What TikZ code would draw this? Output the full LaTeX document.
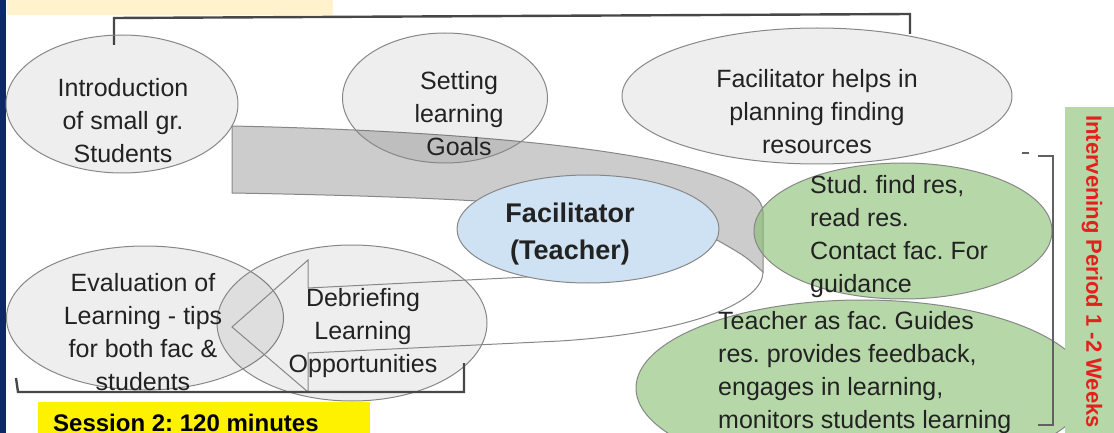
\documentclass[tikz,border=0pt]{standalone}
\usepackage{fontspec}
\setmainfont{Liberation Sans}
\usetikzlibrary{shapes.geometric}
\frenchspacing
\definecolor{navy}{RGB}{12,40,104}
\definecolor{paleyellow}{RGB}{255,242,204}
\definecolor{rim}{RGB}{135,135,135}
\definecolor{band}{RGB}{204,204,204}
\definecolor{facblue}{RGB}{207,226,243}
\definecolor{leaf}{RGB}{133,188,110}
\definecolor{tag}{RGB}{182,215,168}
\definecolor{tagred}{RGB}{228,32,28}
\definecolor{ink}{RGB}{34,34,34}
\begin{document}
\begin{tikzpicture}[x=1pt, y=-1pt, inner sep=0pt,
    bubble/.style={ellipse, draw=rim, line width=1pt, fill=black, fill opacity=.065},
    greenbubble/.style={ellipse, draw=rim, line width=1pt, fill=leaf, fill opacity=.6},
    words/.style={text=ink, align=center, font=\fontsize{25}{33}\selectfont},
    leftwords/.style={words, align=left, anchor=west},
    bracket/.style={draw=black!72, line width=2.4pt}]
    \clip (0,0) rectangle (1114,433);
    \fill[navy] (0,0) rectangle (6,433);
    \fill[paleyellow] (7,0) rectangle (333,15);
    \draw[bracket] (114,45) -- (114,18) -- (910,14) -- (910,34);
    % front face of the curved arrow
    \draw[draw=rim, fill=band, line width=1pt] (232,126) .. controls (520,132) and (763,160) .. (763,212)
        -- (763,272) .. controls (745,256) .. (717,240) .. controls (660,210) and (520,198) .. (232,193) -- cycle;
    \node[bubble, minimum width=232pt, minimum height=138pt] (intro) at (122,104) {};
    \node[bubble, minimum width=205pt, minimum height=130pt] (goals) at (445,98) {};
    \node[bubble, minimum width=390pt, minimum height=136pt] (plan) at (817,96) {};
    \node[bubble, minimum width=277pt, minimum height=144pt] (eval) at (145,318) {};
    \node[bubble, minimum width=270pt, minimum height=156pt] (debrief) at (352,323) {};
    % back face, coming round to the arrow head
    \draw[rim, line width=1pt] (763,272) .. controls (763,300) and (700,332) .. (560,341) -- (308,353)
        -- (308,392) -- (232,327) -- (308,260) -- (308,288) -- (527,277) .. controls (620,271) and (690,258) .. (717,240);
    \node[ellipse, draw=rim, line width=1pt, fill=facblue, minimum width=262pt, minimum height=108pt] (fac) at (588,229) {};
    \node[greenbubble, minimum width=298pt, minimum height=136pt] (find) at (903,231) {};
    \node[greenbubble, minimum width=452pt, minimum height=176pt] (guide) at (862,388) {};
    \draw[bracket] (16,378) -- (18,392) -- (464,392) -- (464,363);
    \draw[bracket, draw=black!62] (1022,153) -- (1029,153);
    \draw[bracket, draw=black!62] (1038,156) -- (1053,156) -- (1053,425) -- (1038,425);
    \node[words] (intro-t) at (123,121) {Introduction\\of small gr.\\Students};
    \node[words] (goals-t) at (459,114) {Setting\\learning\\Goals};
    \node[words] (plan-t) at (817,112) {Facilitator helps in\\planning finding\\resources};
    \node[words, font=\bfseries\fontsize{27}{37}\selectfont] (fac-t) at (570,234) {Facilitator\\(Teacher)};
    \node[leftwords] (find-t) at (810,237) {Stud. find res,\\read res.\\Contact fac. For\\guidance};
    \node[leftwords] (guide-t) at (718,373) {Teacher as fac. Guides\\res. provides feedback,\\engages in learning,\\monitors students learning};
    \node[words] (eval-t) at (143,332) {Evaluation of\\Learning - tips\\for both fac \&\\students};
    \node[words] (debrief-t) at (363,333) {Debriefing\\Learning\\Opportunities};
    \fill[yellow] (38,402) rectangle (370,440);
    \node[anchor=base west, font=\bfseries\fontsize{24}{28}\selectfont] (session) at (53,431) {Session 2: 120 minutes};
    \fill[tag] (1065,107) rectangle (1120,440);
    \node[rotate=-90, anchor=west, text=tagred, font=\bfseries\fontsize{22}{26}\selectfont] (period) at (1092,115) {Intervening Period 1 -2 Weeks};
\end{tikzpicture}
\end{document}
